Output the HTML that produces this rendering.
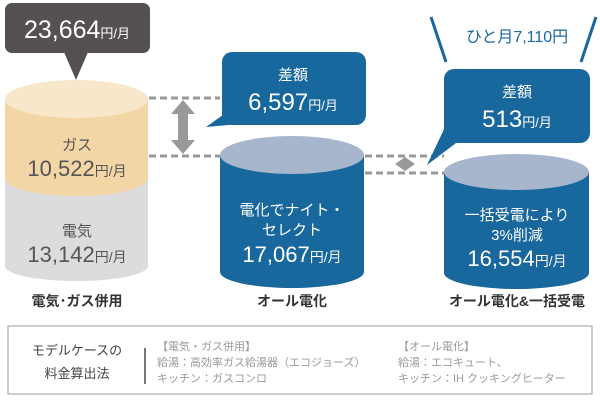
<!DOCTYPE html>
<html><head><meta charset="utf-8"><style>
body{margin:0;background:#fff;width:600px;height:400px;overflow:hidden}
svg{display:block}
text{font-family:"Liberation Sans","Noto Sans CJK JP",sans-serif}
</style></head><body>
<svg width="600" height="400" viewBox="0 0 600 400">
<path d="M5 178 V266 A71.5 15 0 0 0 148 266 V178 Z" fill="#dcdcdc"/>
<path d="M5 99 V178 A71.5 18 0 0 0 148 178 V99 Z" fill="#f3d6a5"/>
<ellipse cx="76.5" cy="99" rx="71.5" ry="19" fill="#f8e7cb"/>
<path d="M220 155 V272 A72 16 0 0 0 364 272 V155 Z" fill="#18679d"/>
<ellipse cx="292" cy="155" rx="72" ry="19" fill="#a8b6cd"/>
<path d="M444 172 V273 A72.5 16 0 0 0 589 273 V172 Z" fill="#18679d"/>
<ellipse cx="516.5" cy="172" rx="72.5" ry="18" fill="#a8b6cd"/>
<g stroke="#999" stroke-width="3" stroke-dasharray="7 4">
<line x1="149" y1="98" x2="220" y2="98"/>
<line x1="149" y1="156" x2="220" y2="156"/>
<line x1="365" y1="156" x2="444" y2="156"/>
<line x1="365" y1="173" x2="444" y2="173"/>
</g>
<path d="M183 100 L195 114 H188 V140 H195 L183 154 L171 140 H178 V114 H171 Z" fill="#999"/>
<path d="M405 157 L415 164 L405 171 L395 164 Z" fill="#999"/>
<rect x="5" y="3" width="145" height="50" rx="7" fill="#555151"/>
<path d="M64 52 L76 80 L88 52 Z" fill="#555151"/>
<rect x="222" y="52" width="144" height="73" rx="10" fill="#18679d"/>
<path d="M230 110 L206 127 L240 124 Z" fill="#18679d"/>
<rect x="444" y="69" width="146" height="74" rx="10" fill="#18679d"/>
<path d="M446 125 L427 165 L460 140 Z" fill="#18679d"/>
<line x1="431" y1="17" x2="446" y2="62" stroke="#18679d" stroke-width="3"/>
<line x1="596" y1="17" x2="581" y2="62" stroke="#18679d" stroke-width="3"/>
<text x="517" y="42" text-anchor="middle" font-size="16" fill="#18679d">ひと月7,110円</text>
<text x="77" y="38" text-anchor="middle" fill="#fff" font-size="25">23,664<tspan font-size="13">円/月</tspan></text>
<text x="293" y="80" text-anchor="middle" fill="#fff" font-size="15">差額</text>
<text x="293" y="110" text-anchor="middle" fill="#fff" font-size="24">6,597<tspan font-size="13">円/月</tspan></text>
<text x="517" y="97" text-anchor="middle" fill="#fff" font-size="15">差額</text>
<text x="517" y="127" text-anchor="middle" fill="#fff" font-size="24">513<tspan font-size="13">円/月</tspan></text>
<text x="77" y="150" text-anchor="middle" fill="#555" font-size="15">ガス</text>
<text x="77" y="176" text-anchor="middle" fill="#555" font-size="22">10,522<tspan font-size="14">円/月</tspan></text>
<text x="77" y="236" text-anchor="middle" fill="#555" font-size="15">電気</text>
<text x="77" y="262" text-anchor="middle" fill="#555" font-size="22">13,142<tspan font-size="14">円/月</tspan></text>
<text x="292" y="215" text-anchor="middle" fill="#fff" font-size="15">電化でナイト・</text>
<text x="292" y="235" text-anchor="middle" fill="#fff" font-size="15">セレクト</text>
<text x="292" y="262" text-anchor="middle" fill="#fff" font-size="22">17,067<tspan font-size="14">円/月</tspan></text>
<text x="517" y="220" text-anchor="middle" fill="#fff" font-size="15">一括受電により</text>
<text x="517" y="240" text-anchor="middle" fill="#fff" font-size="15">3%削減</text>
<text x="517" y="266" text-anchor="middle" fill="#fff" font-size="22">16,554<tspan font-size="14">円/月</tspan></text>
<g font-size="14" font-weight="bold" fill="#333" text-anchor="middle">
<text x="77" y="306">電気･ガス併用</text>
<text x="292" y="306">オール電化</text>
<text x="517" y="306">オール電化&amp;一括受電</text>
</g>
<rect x="8" y="326" width="584" height="68" fill="none" stroke="#bbb" stroke-width="1.5"/>
<text x="77" y="355" text-anchor="middle" font-size="13" fill="#444">モデルケースの</text>
<text x="77" y="378" text-anchor="middle" font-size="13" fill="#444">料金算出法</text>
<line x1="145" y1="348" x2="145" y2="384" stroke="#777" stroke-width="2"/>
<g font-size="11" fill="#999">
<text x="157" y="350">【電気・ガス併用】</text>
<text x="157" y="366">給湯：高効率ガス給湯器（エコジョーズ）</text>
<text x="157" y="382">キッチン：ガスコンロ</text>
<text x="398" y="350">【オール電化】</text>
<text x="398" y="366">給湯：エコキュート、</text>
<text x="398" y="382">キッチン：IH クッキングヒーター</text>
</g>
</svg>
</body></html>
